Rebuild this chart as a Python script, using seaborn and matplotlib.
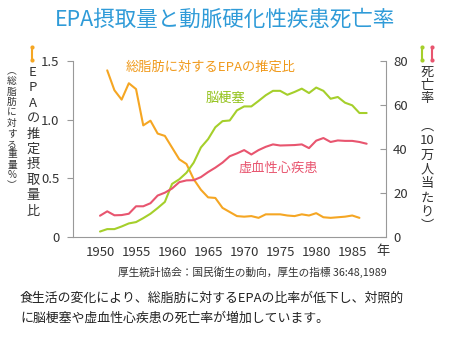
import numpy as np
import pandas as pd
import seaborn as sns
import matplotlib.pyplot as plt
from matplotlib.lines import Line2D

sns.set_style("white")
plt.rcParams['font.family'] = ['Noto Sans CJK JP', 'DejaVu Sans']

# EPA share of total fat (weight %), left axis
epa_years = list(range(1951, 1987))
epa_ratio = [1.42, 1.25, 1.17, 1.31, 1.26, 0.95, 0.99, 0.88, 0.86, 0.76,
             0.66, 0.62, 0.49, 0.40, 0.335, 0.33, 0.245, 0.21, 0.175, 0.17,
             0.175, 0.16, 0.19, 0.19, 0.19, 0.18, 0.175, 0.19, 0.18, 0.20,
             0.165, 0.16, 0.165, 0.17, 0.18, 0.16]

# Mortality per 100,000, right axis
mort_years = list(range(1950, 1988))
cerebral_infarction = [2.3, 3.4, 3.4, 4.6, 6.0, 6.6, 8.4, 10.4, 13.0, 15.8,
                       24.0, 26.1, 29.1, 33.7, 40.6, 44.4, 49.8, 52.6, 52.9, 57.5,
                       59.3, 59.3, 61.8, 64.4, 66.4, 66.4, 64.6, 65.9, 67.4, 65.4,
                       67.9, 66.4, 62.8, 63.6, 61.0, 59.8, 56.3, 56.3]
ischemic_heart = [9.5, 11.5, 9.7, 9.8, 10.4, 13.8, 13.8, 15.2, 18.7, 20.0,
                  21.9, 24.8, 25.6, 25.7, 27.1, 29.4, 31.4, 33.7, 36.6, 37.9,
                  39.4, 37.4, 39.4, 40.9, 42.0, 41.5, 41.6, 41.7, 42.0, 40.3,
                  43.7, 44.9, 43.1, 43.8, 43.6, 43.6, 43.1, 42.3]

x_ticks = [1950, 1955, 1960, 1965, 1970, 1975, 1980, 1985]
left_ticks = [0, 0.5, 1.0, 1.5]
left_tick_labels = ["0", "0.5", "1.0", "1.5"]
right_ticks = [0, 20, 40, 60, 80]

ORANGE = "#f5a623"
GREEN = "#a5cf2b"
RED = "#e8556f"
TEXT = "#333333"
SPINE = "#999999"

epa_df = pd.DataFrame({"year": epa_years, "ratio": epa_ratio})
mort_df = pd.DataFrame({"year": mort_years,
                        "cerebral": cerebral_infarction,
                        "ischemic": ischemic_heart})

fig = plt.figure(figsize=(4.5, 3.37), dpi=100)
ax = fig.add_axes([0.163, 0.298, 0.695, 0.521])
ax2 = ax.twinx()

sns.lineplot(data=epa_df, x="year", y="ratio", ax=ax, color=ORANGE, lw=1.5)
sns.lineplot(data=mort_df, x="year", y="cerebral", ax=ax2, color=GREEN, lw=1.5)
sns.lineplot(data=mort_df, x="year", y="ischemic", ax=ax2, color=RED, lw=1.5)

ax.set_xlim(1946.3, 1989.7)
ax.set_ylim(0, 1.5)
ax2.set_ylim(0, 80)
ax.set_xticks(x_ticks)
ax.set_xticklabels([str(y) for y in x_ticks])
ax.set_yticks(left_ticks)
ax.set_yticklabels(left_tick_labels)
ax2.set_yticks(right_ticks)
for a in (ax, ax2):
    a.set_xlabel("")
    a.set_ylabel("")
    for s in a.spines.values():
        s.set_color(SPINE)
        s.set_linewidth(0.8)
    a.spines["top"].set_visible(False)
ax.spines["right"].set_visible(False)
ax2.spines["left"].set_visible(False)
ax2.spines["bottom"].set_visible(False)

ax.tick_params(axis="x", direction="out", length=3, color=SPINE, labelsize=9.5,
               labelcolor=TEXT, pad=4)
ax.tick_params(axis="y", direction="out", length=4, color=SPINE, labelsize=9.5,
               labelcolor=TEXT, pad=6)
ax2.tick_params(axis="y", direction="in", length=4, color=SPINE, labelsize=9.5,
                labelcolor=TEXT, pad=5)

# Title
fig.text(0.5, 1 - 20 / 337, "EPA摂取量と動脈硬化性疾患死亡率", ha="center", va="center",
         fontsize=15.5, color="#2f9bd8")

# Series labels
ax.text(1965.3, 1.45, "総脂肪に対するEPAの推定比", color="#f09a1c", fontsize=9.5,
        ha="center", va="center")
ax2.text(1967.4, 63.0, "脳梗塞", color="#93c21a", fontsize=9.5, ha="center", va="center")
ax2.text(1974.7, 31.3, "虚血性心疾患", color=RED, fontsize=9.5, ha="center", va="center")

# Unit after the year ticks
fig.text(383 / 450, 1 - 251 / 337, "年", ha="center", va="center", fontsize=9.5, color=TEXT)


def vertical(x_px, y_px, chars, size, spacing):
    """Stack characters top to bottom as upright vertical writing."""
    fig.text(x_px / 450, 1 - y_px / 337, "\n".join(chars), ha="center", va="top",
             fontsize=size, color=TEXT, linespacing=spacing, multialignment="center")


# Vertical axis titles
vertical(33, 66, list("EPAの推定摂取量比"), 9.5, 1.24)
vertical(12, 66, ["︵", "総", "脂", "肪", "に", "対", "す", "る", "重", "量", "%", "︶"], 7, 1.05)
vertical(427, 66, list("死亡率"), 9.5, 1.0)
vertical(427, 120, ["︵", "10", "万", "人", "当", "た", "り", "︶"], 9.5, 1.13)

# Legend-like markers beside the axis titles
for xpix, col in [(32, ORANGE), (422, GREEN), (432, RED)]:
    fig.add_artist(Line2D([xpix / 450, xpix / 450], [1 - 47 / 337, 1 - 60 / 337],
                          transform=fig.transFigure, color=col, lw=1.5,
                          marker="o", markersize=3, markeredgewidth=0))

# Source and caption
fig.text(252 / 450, 1 - 272 / 337, "厚生統計協会：国民衛生の動向，厚生の指標 36:48,1989",
         ha="center", va="center", fontsize=7.7, color=TEXT)
fig.text(20 / 450, 1 - 298 / 337,
         "食生活の変化により、総脂肪に対するEPAの比率が低下し、対照的",
         ha="left", va="center", fontsize=9.3, color="#222222")
fig.text(20 / 450, 1 - 318 / 337,
         "に脳梗塞や虚血性心疾患の死亡率が増加しています。",
         ha="left", va="center", fontsize=9.3, color="#222222")

fig.savefig("out.png", dpi=100)
